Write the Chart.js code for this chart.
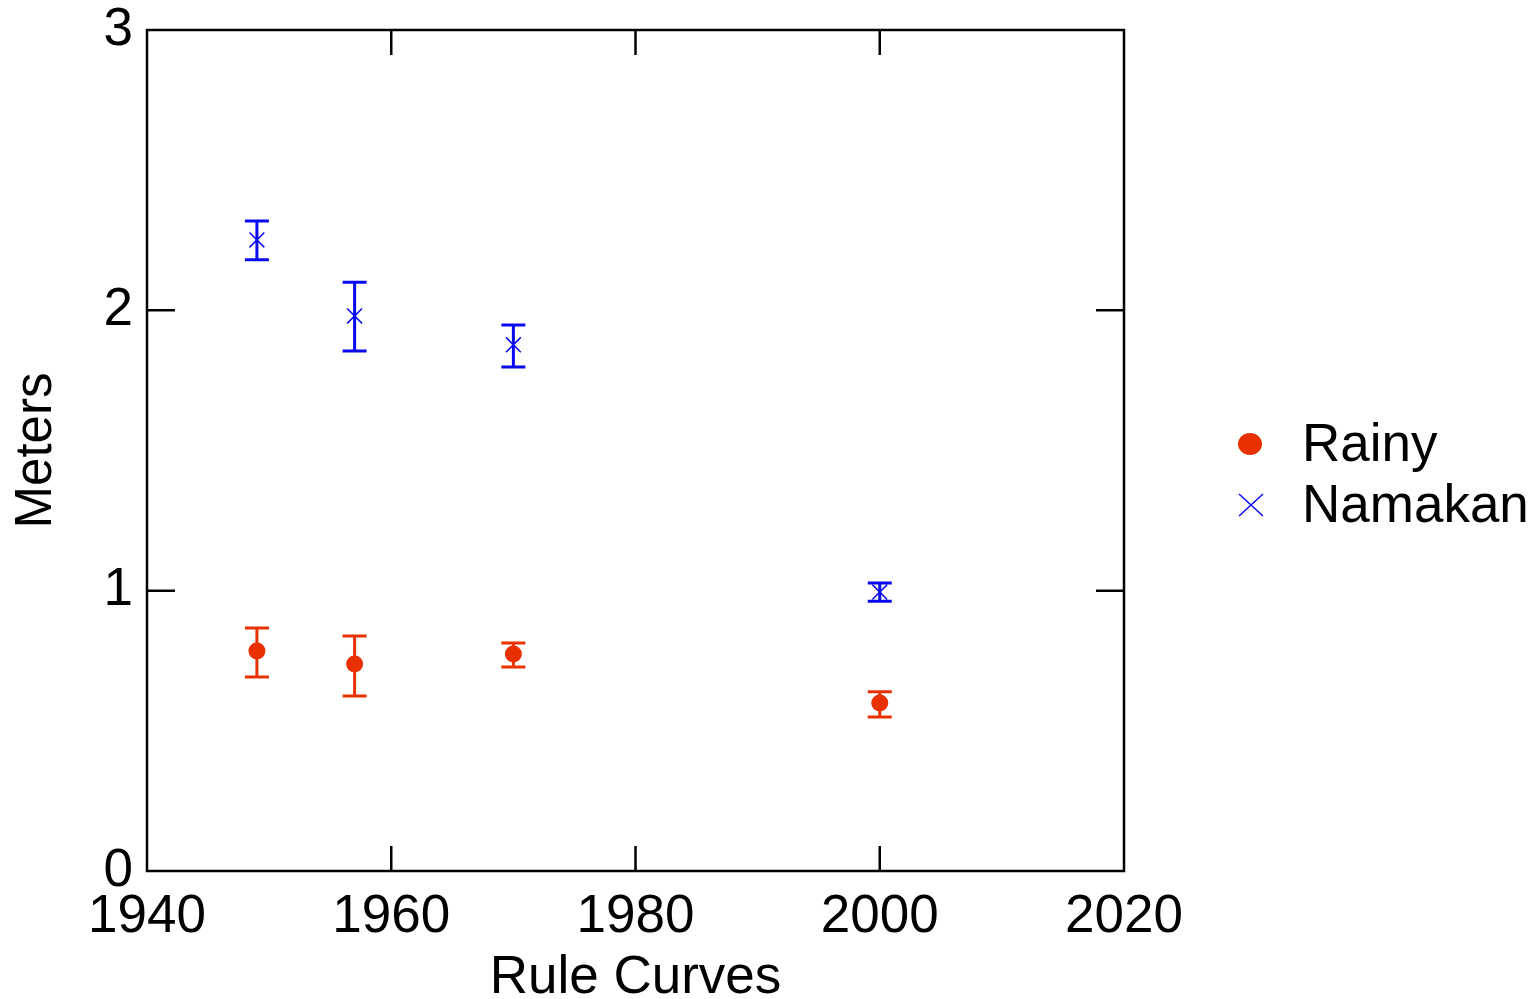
<!DOCTYPE html>
<html>
<head>
<meta charset="utf-8">
<script src="https://cdn.jsdelivr.net/npm/chart.js@4"></script>
<style>
    body { margin: 0; background: #fff; }
    canvas { display: block; }
</style>
</head>
<body>
<canvas id="chart" width="1540" height="999"></canvas>
<script>
// Rule curve years
const years = [1949, 1957, 1970, 2000];

// Rainy lake levels (m) with error bar limits
const rainyValues = [0.785, 0.738, 0.774, 0.599];
const rainyLow = [0.692, 0.624, 0.728, 0.549];
const rainyHigh = [0.867, 0.838, 0.813, 0.639];

// Namakan lake levels (m) with error bar limits
const namakanValues = [2.251, 1.98, 1.877, 0.995];
const namakanLow = [2.18, 1.855, 1.798, 0.962];
const namakanHigh = [2.319, 2.10, 1.948, 1.027];

const xTicks = [1940, 1960, 1980, 2000, 2020];
const yTicks = [0, 1, 2, 3];

const FONT = 'Liberation Sans, Arial, sans-serif';

function toPoints(values, low, high) {
    return years.map((year, i) => ({ x: year, y: values[i], low: low[i], high: high[i] }));
}

// error bars drawn behind the markers
const errorBars = {
    id: 'errorBars',
    beforeDatasetsDraw(chart) {
        const ctx = chart.ctx;
        const xScale = chart.scales.x;
        const yScale = chart.scales.y;
        chart.data.datasets.forEach(ds => {
            ctx.save();
            ctx.strokeStyle = ds.borderColor;
            ctx.lineWidth = 3;
            ds.data.forEach(p => {
                const px = xScale.getPixelForValue(p.x);
                const top = yScale.getPixelForValue(p.high);
                const bottom = yScale.getPixelForValue(p.low);
                ctx.beginPath();
                ctx.moveTo(px, top);
                ctx.lineTo(px, bottom);
                ctx.moveTo(px - 12, top);
                ctx.lineTo(px + 12, top);
                ctx.moveTo(px - 12, bottom);
                ctx.lineTo(px + 12, bottom);
                ctx.stroke();
            });
            ctx.restore();
        });
    }
};

// frame with inward ticks on all four sides
const frame = {
    id: 'frame',
    afterDatasetsDraw(chart) {
        const ctx = chart.ctx;
        const area = chart.chartArea;
        const xScale = chart.scales.x;
        const yScale = chart.scales.y;
        ctx.save();
        ctx.strokeStyle = '#000';
        ctx.lineWidth = 2.5;
        ctx.strokeRect(area.left, area.top, area.right - area.left, area.bottom - area.top);
        ctx.beginPath();
        xTicks.slice(1, -1).forEach(v => {
            const px = xScale.getPixelForValue(v);
            ctx.moveTo(px, area.bottom);
            ctx.lineTo(px, area.bottom - 25);
            ctx.moveTo(px, area.top);
            ctx.lineTo(px, area.top + 25);
        });
        yTicks.slice(1, -1).forEach(v => {
            const py = yScale.getPixelForValue(v);
            ctx.moveTo(area.left, py);
            ctx.lineTo(area.left + 28, py);
            ctx.moveTo(area.right, py);
            ctx.lineTo(area.right - 28, py);
        });
        ctx.stroke();
        ctx.restore();
    }
};

// legend to the right of the plot
const sideLegend = {
    id: 'sideLegend',
    afterDraw(chart) {
        const ctx = chart.ctx;
        const rows = [444, 505];
        chart.data.datasets.forEach((ds, i) => {
            const y = rows[i];
            ctx.save();
            if (ds.pointStyle === 'circle') {
                ctx.fillStyle = ds.backgroundColor;
                ctx.beginPath();
                ctx.ellipse(1250, y, 12, 11, 0, 0, Math.PI * 2);
                ctx.fill();
            } else {
                ctx.strokeStyle = ds.borderColor;
                ctx.lineWidth = 1.5;
                ctx.beginPath();
                ctx.moveTo(1239, y - 11);
                ctx.lineTo(1263, y + 11);
                ctx.moveTo(1263, y - 11);
                ctx.lineTo(1239, y + 11);
                ctx.stroke();
            }
            ctx.fillStyle = '#000';
            ctx.font = '53px ' + FONT;
            ctx.textBaseline = 'middle';
            ctx.fillText(ds.label, 1302, y + 2);
            ctx.restore();
        });
    }
};

new Chart(document.getElementById('chart'), {
    type: 'scatter',
    data: {
        datasets: [
            {
                label: 'Rainy',
                data: toPoints(rainyValues, rainyLow, rainyHigh),
                pointStyle: 'circle',
                pointRadius: 8.5,
                backgroundColor: '#e83000',
                borderColor: '#e83000',
                borderWidth: 0
            },
            {
                label: 'Namakan',
                data: toPoints(namakanValues, namakanLow, namakanHigh),
                pointStyle: 'crossRot',
                pointRadius: 10.5,
                backgroundColor: '#1a1aff',
                borderColor: '#0a0af0',
                borderWidth: 1.5
            }
        ]
    },
    options: {
        responsive: false,
        animation: false,
        layout: { padding: { top: 30, right: 416, left: 0, bottom: 0 } },
        plugins: {
            legend: { display: false },
            tooltip: { enabled: false }
        },
        scales: {
            x: {
                type: 'linear',
                min: 1940,
                max: 2020,
                afterFit: scale => {
                    scale.height = 128;
                    scale.paddingLeft = 0;
                    scale.paddingRight = 0;
                },
                afterBuildTicks: scale => { scale.ticks = xTicks.map(v => ({ value: v })); },
                grid: { display: false, drawTicks: false },
                border: { display: false },
                ticks: {
                    color: '#000',
                    font: { family: FONT, size: 53 },
                    padding: 15,
                    maxRotation: 0,
                    callback: value => String(value)
                },
                title: {
                    display: true,
                    text: 'Rule Curves',
                    color: '#000',
                    font: { family: FONT, size: 53, lineHeight: 1 },
                    padding: { top: 0, bottom: -6 }
                }
            },
            y: {
                min: 0,
                max: 3,
                afterFit: scale => {
                    scale.width = 147;
                    scale.paddingTop = 0;
                    scale.paddingBottom = 0;
                },
                afterBuildTicks: scale => { scale.ticks = yTicks.map(v => ({ value: v })); },
                grid: { display: false, drawTicks: false },
                border: { display: false },
                ticks: {
                    color: '#000',
                    font: { family: FONT, size: 53 },
                    padding: 14,
                    callback: value => String(value)
                },
                title: {
                    display: true,
                    text: 'Meters',
                    color: '#000',
                    font: { family: FONT, size: 51, lineHeight: 1 },
                    padding: { top: 11, bottom: 0 }
                }
            }
        }
    },
    plugins: [errorBars, frame, sideLegend]
});
</script>
</body>
</html>
